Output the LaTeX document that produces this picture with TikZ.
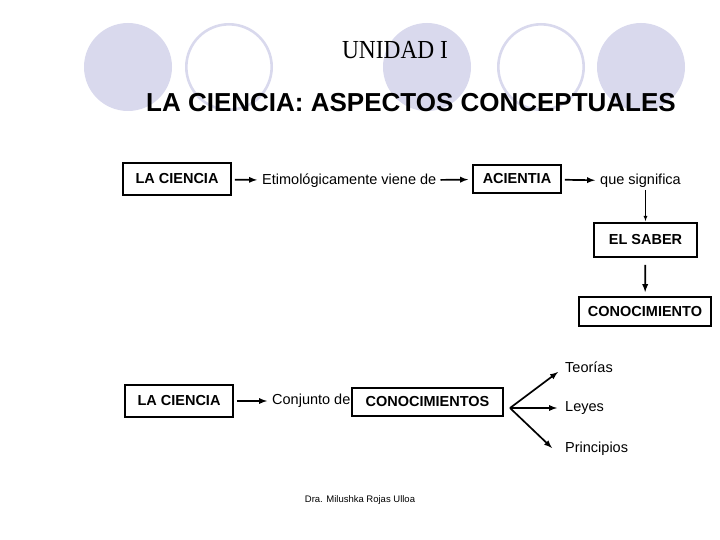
\documentclass[tikz,border=0pt]{standalone}
\usepackage{fontspec}
\setmainfont{Liberation Sans}
\newfontfamily\headserif[FakeStretch=0.9]{Liberation Serif}
\usetikzlibrary{arrows}
\definecolor{bubblecol}{RGB}{217,217,237}

\begin{document}
\begin{tikzpicture}[x=1pt,y=-1pt]

	\tikzstyle bubble fill=[fill=bubblecol];
	\tikzstyle bubble ring=[draw=bubblecol, line width=2.6pt];
	\tikzstyle concept box=[draw, line width=1.8pt, inner sep=0pt, font=\fontsize{14.5}{17}\selectfont\bfseries];
	\tikzstyle plain text=[inner sep=1pt, font=\fontsize{14.5}{17}\selectfont];
	\tikzstyle link arrow=[-latex, line width=1.7pt, shorten <=3pt, shorten >=4pt];
	\tikzstyle thin arrow=[-latex, line width=0.8pt];

	\useasboundingbox (0,0) rectangle (720,540);

	% background bubbles
	\foreach \x in {128,427,641}
		\fill[bubble fill] (\x,67) circle (44);
	\foreach \x in {229,541}
		\draw[bubble ring] (\x,67) circle (42.7);

	\node (unidad) at (395,50) {\headserif\fontsize{26}{28}\selectfont UNIDAD I};
	\node (titulo) at (411,103) {\fontsize{26}{28}\selectfont\bfseries LA CIENCIA: ASPECTOS CONCEPTUALES};

	% first row
	\node[concept box, minimum width=108, minimum height=32] (ciencia1) at (177,179) {LA CIENCIA};
	\node[plain text, anchor=west] (etimo) at (261,181) {Etimológicamente viene de};
	\node[concept box, minimum width=88, minimum height=28] (acientia) at (517,179) {ACIENTIA};
	\node[plain text, anchor=west] (significa) at (599,181) {que significa};
	\node[concept box, minimum width=103, minimum height=34] (saber) at (645.5,240) {EL SABER};
	\node[concept box, minimum width=132, minimum height=29] (conoc) at (645,311.5) {CONOCIMIENTO};

	\draw[link arrow] (ciencia1) -- (etimo);
	\draw[link arrow] (etimo) -- (acientia);
	\draw[link arrow] (acientia) -- (significa);
	\draw[thin arrow, shorten <=1pt, shorten >=1pt] (saber.north |- significa.south) -- (saber.north);
	\draw[link arrow, shorten <=7pt, shorten >=4pt] (saber) -- (conoc);

	% second row
	\node[concept box, minimum width=108, minimum height=32] (ciencia2) at (179,401) {LA CIENCIA};
	\node[plain text, anchor=west] (conjunto) at (271,401) {Conjunto de};
	\node[concept box, minimum width=151, minimum height=28] (conocs) at (427.5,402) {CONOCIMIENTOS};
	\coordinate (fan) at (510,408);
	\node[plain text, anchor=west] (teorias) at (564,367) {Teorías};
	\node[plain text, anchor=west] (leyes) at (564,408) {Leyes};
	\node[plain text, anchor=west] (principios) at (564,449) {Principios};

	\draw[link arrow] (ciencia2) -- (conjunto);
	\draw[link arrow, shorten <=0pt, shorten >=0pt] (fan) -- ([xshift=-6pt,yshift=-5pt]teorias.west);
	\draw[link arrow, shorten <=0pt, shorten >=0pt] (fan) -- ([xshift=-7pt]leyes.west);
	\draw[link arrow, shorten <=0pt, shorten >=0pt] (fan) -- ([xshift=-12pt,yshift=1pt]principios.west);

	\node[font=\fontsize{9.5}{11}\selectfont] (autora) at (360,500) {Dra. Milushka Rojas Ulloa};

\end{tikzpicture}
\end{document}
